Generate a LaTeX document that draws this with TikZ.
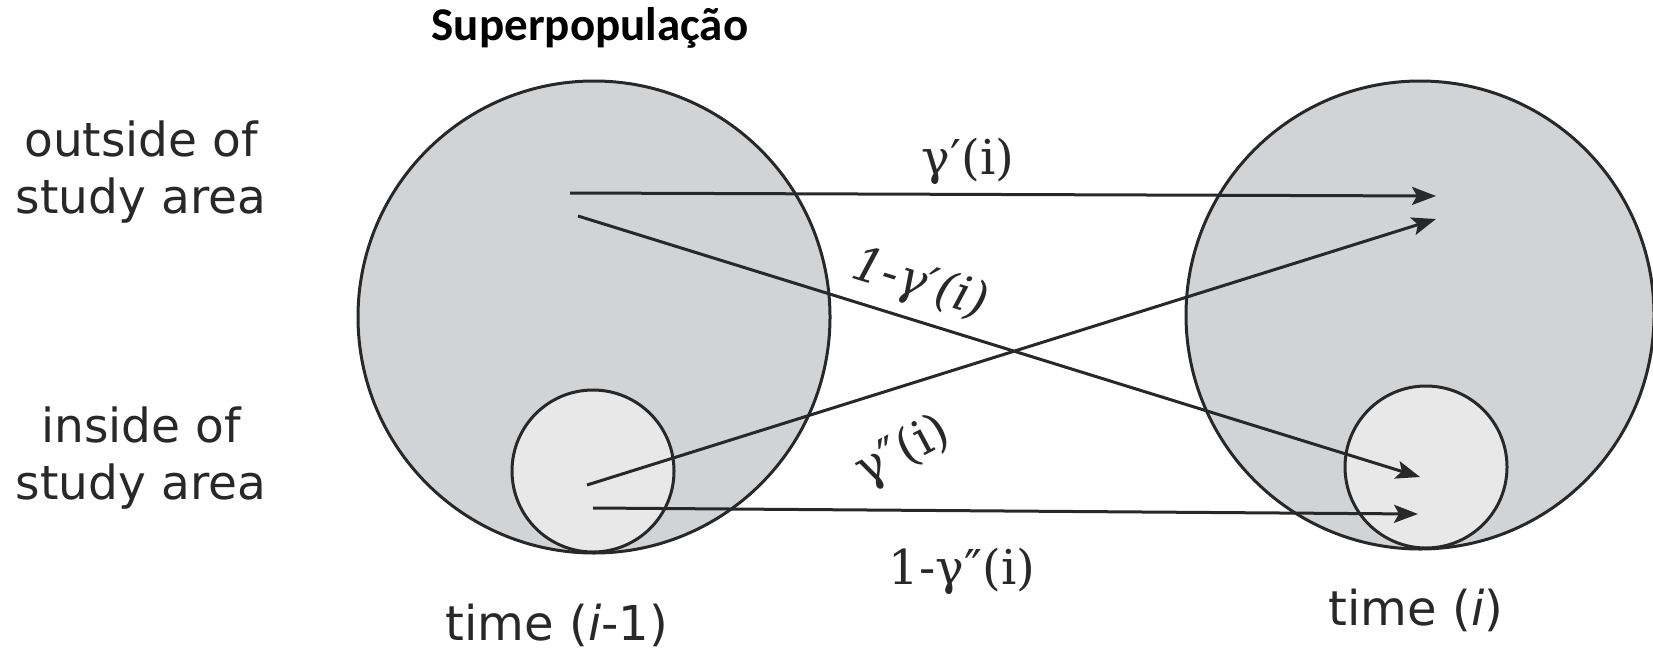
\documentclass[tikz,border=0pt]{standalone}
\usepackage{fontspec}
\setmainfont{DejaVu Serif}
\newfontfamily\verd{DejaVu Sans}
\newfontfamily\calib{Carlito}
\usetikzlibrary{arrows.meta}
\definecolor{bigfill}{RGB}{210,211,213}
\definecolor{smallfill}{RGB}{232,232,233}
\definecolor{ink}{RGB}{40,40,40}
\begin{document}
\begin{tikzpicture}[x=1pt,y=-1pt,
  bigc/.style={circle,draw=ink,line width=3pt,fill=bigfill,inner sep=0pt},
  smallc/.style={circle,draw=ink,line width=3pt,fill=smallfill,inner sep=0pt},
  flow/.style={draw=ink,line width=3pt,-{Stealth[length=24pt,width=18pt,inset=5pt]}},
  side/.style={font=\verd\fontsize{47}{57}\selectfont,align=center,text=ink},
  timel/.style={font=\verd\fontsize{48}{56}\selectfont,text=ink},
  glab/.style={font=\fontsize{48}{58}\selectfont,text=ink,inner sep=0pt}
  ]
\useasboundingbox (0,0) rectangle (1653,653);
\fill[white] (0,0) rectangle (1653,653);
% circles
\node[bigc,minimum size=472pt] (L) at (594,317) {};
\node[bigc,minimum size=468pt] (R) at (1420,315) {};
\node[smallc,minimum size=162pt] (l) at (593,471) {};
\node[smallc,minimum size=162pt] (r) at (1426,467) {};
% arrow end points
\coordinate (a1s) at (570,193);
\coordinate (a1e) at (1436,196);
\coordinate (a2s) at (578,216);
\coordinate (a2e) at (1420,477);
\coordinate (a3s) at (587,485);
\coordinate (a3e) at (1436,219);
\coordinate (a4s) at (593,508);
\coordinate (a4e) at (1418,514);
\draw[flow] (a1s) -- (a1e);
\draw[flow] (a2s) -- (a2e);
\draw[flow] (a3s) -- (a3e);
\draw[flow] (a4s) -- (a4e);
% labels
\node[font=\calib\bfseries\fontsize{47}{52}\selectfont,text=black] (title) at (590,28) {Superpopulação};
\node[side] (out) at (141,172) {outside of\\study area};
\node[side] (in) at (141,458) {inside of\\study area};
\node[timel,anchor=base] (t0) at (557,640) {time (\textit{i}-1)};
\node[timel,anchor=base] (t1) at (1416,625) {time (\textit{i})};
\node[glab,anchor=base] (g1) at (968,174) {γ′(i)};
\node[glab,rotate=-17] (g2) at (920,285) {\textit{1-γ′(i)}};
\node[glab,rotate=28] (g3) at (903,452) {γ″(i)};
\node[glab,anchor=base] (g4) at (962,584) {1-γ″(i)};
\end{tikzpicture}
\end{document}
